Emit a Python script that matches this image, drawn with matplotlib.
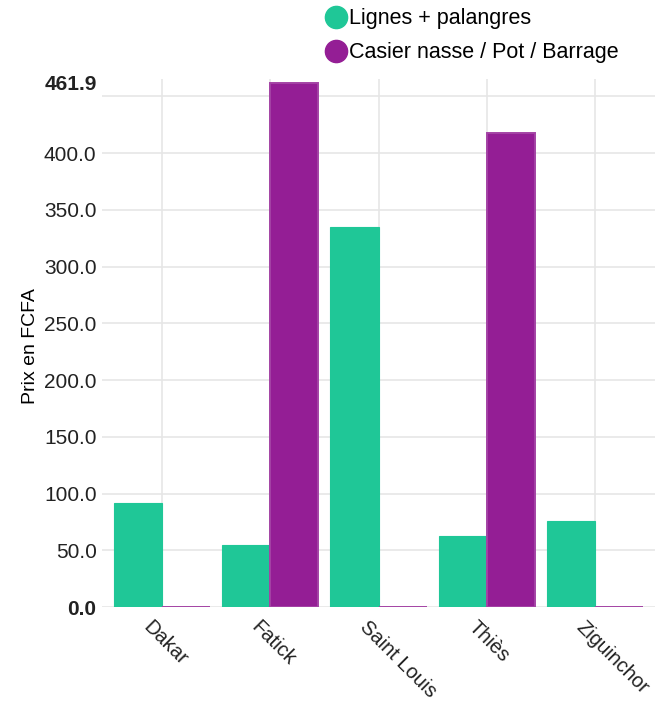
import matplotlib.pyplot as plt
import matplotlib.transforms as mtransforms
import numpy as np
from matplotlib.lines import Line2D

plt.rcParams['font.family'] = ['Liberation Sans', 'DejaVu Sans']

regions = ['Dakar', 'Fatick', 'Saint Louis', 'Thiès', 'Ziguinchor']
lignes = [92.0, 54.6, 335.0, 62.6, 76.0]
casier = [0.0, 461.9, 0.0, 418.0, 0.0]
series_names = ['Lignes + palangres', 'Casier nasse / Pot / Barrage']
yticks = [0, 50, 100, 150, 200, 250, 300, 350, 400, 461.9]
grid_y = [0, 50, 100, 150, 200, 250, 300, 350, 400, 450]

green = '#1fc797'
purple = '#941e95'

fig = plt.figure(figsize=(6.63, 7.02), dpi=100)
ax = fig.add_axes([0.154, 0.135, 0.834, 0.752])

x = np.arange(len(regions))
w = 0.445
ax.bar(x - w/2, lignes, w, color=green, edgecolor=green, linewidth=0.8, zorder=3)
ax.bar(x + w/2, casier, w, color=purple, edgecolor='#a443a5', linewidth=1.4, zorder=3)

ax.set_xlim(-0.554, len(regions) - 1 + 0.554)
ax.set_ylim(0, 465)

for g in grid_y:
    ax.axhline(g, color='#e6e6e6', lw=1.2, zorder=1)
for xi in x:
    ax.axvline(xi, color='#e6e6e6', lw=1.2, zorder=1)

ax.set_yticks(yticks)
ax.set_yticklabels(['%.1f' % v for v in yticks], fontsize=15, color='#222222')
for lbl in [ax.get_yticklabels()[0], ax.get_yticklabels()[-1]]:
    lbl.set_fontweight('bold')
ax.set_xticks(x)
ax.set_xticklabels([])
ax.tick_params(length=0, pad=4)
for s in ax.spines.values():
    s.set_visible(False)

# rotated category labels, starting a little left of the category centre
trans = ax.get_xaxis_transform() + mtransforms.ScaledTranslation(-0.09, -0.10, fig.dpi_scale_trans)
for xi, name in zip(x, regions):
    ax.text(xi, 0, name, transform=trans, fontsize=14.5, rotation=-45,
            ha='left', va='top', rotation_mode='anchor', color='#222222')

ax.set_ylabel('Prix en FCFA', fontsize=14)
ax.yaxis.set_label_coords(-0.115, 0.495)

handles = [Line2D([], [], marker='o', ls='', markersize=16, color=c) for c in (green, purple)]
fig.legend(handles, series_names, loc='upper left', bbox_to_anchor=(0.458, 1.016),
           frameon=False, fontsize=15.5, handletextpad=0.0, labelspacing=0.62,
           handlelength=1.2)

fig.savefig('out.png', dpi=100)
